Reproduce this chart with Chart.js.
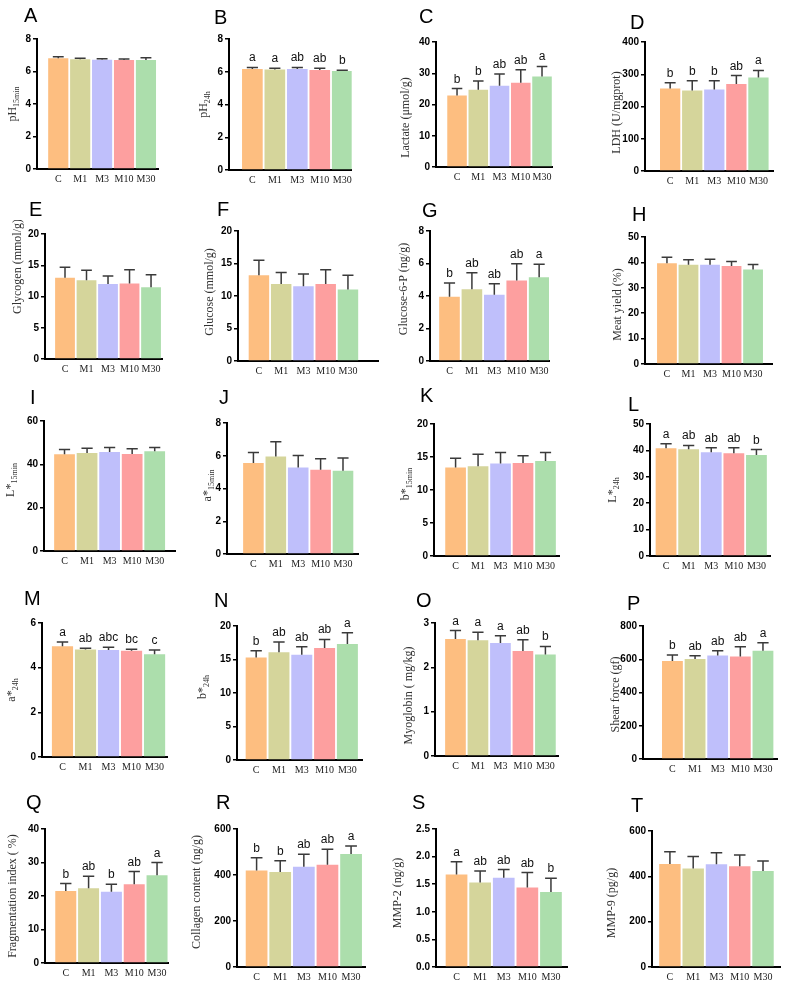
<!DOCTYPE html>
<html>
<head>
<meta charset="utf-8">
<script src="https://cdn.jsdelivr.net/npm/chart.js@4.4.1/dist/chart.umd.min.js"></script>
<style>
  body { margin: 0; background: #fff; }
  #fig { position: relative; width: 789px; height: 988px; overflow: hidden; }
  #fig canvas { position: absolute; }
  .tag { position: absolute; font: 20px "Liberation Sans", Arial, sans-serif; line-height: 20px; color: #000; }
</style>
</head>
<body>
<div id="fig"></div>
<script>
// groups and bar colours
const groups = ['C', 'M1', 'M3', 'M10', 'M30'];
const barColors = ['#FDBE80', '#D5D59B', '#BFBFFB', '#FD9F9F', '#ACDEAC'];

// A  pH 15min
const ph15Mean = [6.81, 6.75, 6.73, 6.71, 6.71];
const ph15Sd = [0.10, 0.06, 0.06, 0.06, 0.14];
// B  pH 24h
const ph24Mean = [6.17, 6.13, 6.17, 6.11, 6.05];
const ph24Sd = [0.09, 0.08, 0.09, 0.10, 0.04];
const ph24Sig = ['a', 'a', 'ab', 'ab', 'b'];
// C  lactate
const lactateMean = [22.9, 24.7, 26.0, 27.0, 29.0];
const lactateSd = [2.2, 2.8, 3.8, 4.1, 3.2];
const lactateSig = ['b', 'b', 'ab', 'ab', 'a'];
// D  LDH
const ldhMean = [256, 250, 253, 270, 290];
const ldhSd = [18, 30, 27, 26, 22];
const ldhSig = ['b', 'b', 'b', 'ab', 'a'];
// E  glycogen
const glycogenMean = [13.0, 12.6, 12.0, 12.1, 11.5];
const glycogenSd = [1.7, 1.6, 1.3, 2.2, 2.0];
// F  glucose
const glucoseMean = [13.2, 11.85, 11.5, 11.85, 11.0];
const glucoseSd = [2.3, 1.75, 1.9, 2.2, 2.2];
// G  glucose-6-P
const g6pMean = [3.95, 4.42, 4.07, 4.96, 5.16];
const g6pSd = [0.85, 1.01, 0.68, 1.03, 0.79];
const g6pSig = ['b', 'ab', 'ab', 'ab', 'a'];
// H  meat yield
const yieldMean = [39.7, 39.1, 39.1, 38.6, 37.2];
const yieldSd = [2.3, 1.9, 2.1, 1.8, 2.0];
// I  L* 15min
const l15Mean = [44.6, 45.2, 45.7, 44.8, 46.0];
const l15Sd = [2.3, 2.2, 2.1, 2.4, 1.8];
// J  a* 15min
const a15Mean = [5.55, 5.96, 5.29, 5.14, 5.08];
const a15Sd = [0.65, 0.90, 0.73, 0.68, 0.78];
// K  b* 15min
const b15Mean = [13.4, 13.6, 14.0, 14.1, 14.4];
const b15Sd = [1.4, 1.8, 1.7, 1.1, 1.3];
// L  L* 24h
const l24Mean = [40.8, 40.4, 39.3, 38.9, 38.3];
const l24Sd = [1.7, 1.5, 1.7, 2.1, 2.0];
const l24Sig = ['a', 'ab', 'ab', 'ab', 'b'];
// M  a* 24h
const a24Mean = [4.96, 4.81, 4.79, 4.76, 4.60];
const a24Sd = [0.19, 0.06, 0.12, 0.06, 0.19];
const a24Sig = ['a', 'ab', 'abc', 'bc', 'c'];
// N  b* 24h
const b24Mean = [15.3, 16.1, 15.7, 16.7, 17.3];
const b24Sd = [1.0, 1.5, 1.2, 1.3, 1.7];
const b24Sig = ['b', 'ab', 'ab', 'ab', 'a'];
// O  myoglobin
const myoMean = [2.64, 2.61, 2.55, 2.37, 2.29];
const myoSd = [0.19, 0.18, 0.16, 0.25, 0.18];
const myoSig = ['a', 'a', 'a', 'ab', 'b'];
// P  shear force
const shearMean = [589, 601, 623, 617, 651];
const shearSd = [36, 20, 28, 58, 48];
const shearSig = ['b', 'ab', 'ab', 'ab', 'a'];
// Q  fragmentation index
const fragMean = [21.5, 22.3, 21.3, 23.5, 26.2];
const fragSd = [2.2, 3.6, 2.2, 3.8, 3.8];
const fragSig = ['b', 'ab', 'b', 'ab', 'a'];
// R  collagen
const collagenMean = [420, 413, 436, 445, 491];
const collagenSd = [55, 49, 54, 67, 35];
const collagenSig = ['b', 'b', 'ab', 'ab', 'a'];
// S  MMP-2
const mmp2Mean = [1.675, 1.53, 1.615, 1.44, 1.36];
const mmp2Sd = [0.23, 0.21, 0.15, 0.27, 0.25];
const mmp2Sig = ['a', 'ab', 'ab', 'ab', 'b'];
// T  MMP-9
const mmp9Mean = [454, 435, 453, 445, 423];
const mmp9Sd = [55, 53, 51, 49, 45];

// panel setup; box = [y-axis x, top tick y, zero y, x-axis end]
const panels = [
  { tag: 'A', title: 'pH', sub: '15min', mean: ph15Mean, sd: ph15Sd, yMax: 8, yStep: 2, box: [37, 39, 169, 158], xr: [-0.97, 4.55], tOff: 24, tDy: 0, tagAt: [24, 5] },
  { tag: 'B', title: 'pH', sub: '24h', mean: ph24Mean, sd: ph24Sd, sig: ph24Sig, yMax: 8, yStep: 2, box: [229, 39, 170, 352], xr: [-1.04, 4.42], tOff: 25, tDy: 0, tagAt: [214, 7] },
  { tag: 'C', title: 'Lactate (\u03bcmol/g)', mean: lactateMean, sd: lactateSd, sig: lactateSig, yMax: 40, yStep: 10, box: [436, 42, 167, 552], xr: [-0.99, 4.47], tOff: 30, tDy: 13, tagAt: [419, 6] },
  { tag: 'D', title: 'LDH (U/mgprot)', mean: ldhMean, sd: ldhSd, sig: ldhSig, yMax: 400, yStep: 100, box: [645, 42, 171, 773], xr: [-1.14, 4.66], tOff: 28, tDy: 6, tagAt: [630, 12] },
  { tag: 'E', title: 'Glycogen (mmol/g)', mean: glycogenMean, sd: glycogenSd, yMax: 20, yStep: 5, box: [45, 234, 359, 162], xr: [-0.93, 4.51], tOff: 27, tDy: -30, tagAt: [29, 199] },
  { tag: 'F', title: 'Glucose (mmol/g)', mean: glucoseMean, sd: glucoseSd, yMax: 20, yStep: 5, box: [238, 231, 361, 378], xr: [-0.94, 5.35], tOff: 28, tDy: -4, tagAt: [217, 199] },
  { tag: 'G', title: 'Glucose-6-P (ng/g)', mean: g6pMean, sd: g6pSd, sig: g6pSig, yMax: 8, yStep: 2, box: [430, 231, 361, 549], xr: [-0.87, 4.44], tOff: 26, tDy: -7, tagAt: [422, 200] },
  { tag: 'H', title: 'Meat yield (%)', mean: yieldMean, sd: yieldSd, yMax: 50, yStep: 10, box: [645, 237, 364, 772], xr: [-1.02, 4.88], tOff: 27, tDy: 4, tagAt: [632, 204] },
  { tag: 'I', title: 'L*', sub: '15min', mean: l15Mean, sd: l15Sd, yMax: 60, yStep: 20, box: [44, 421, 551, 175], xr: [-0.91, 4.9], tOff: 33, tDy: -6, tagAt: [30, 387] },
  { tag: 'J', title: 'a*', sub: '15min', mean: a15Mean, sd: a15Sd, yMax: 8, yStep: 2, box: [227, 423, 554, 358], xr: [-1.18, 4.67], tOff: 19, tDy: -3, tagAt: [219, 387] },
  { tag: 'K', title: 'b*', sub: '15min', mean: b15Mean, sd: b15Sd, yMax: 20, yStep: 5, box: [434, 424, 556, 559], xr: [-0.96, 4.6], tOff: 28, tDy: -6, tagAt: [420, 385] },
  { tag: 'L', title: 'L*', sub: '24h', mean: l24Mean, sd: l24Sd, sig: l24Sig, yMax: 50, yStep: 10, box: [650, 424, 556, 770], xr: [-0.71, 4.6], tOff: 37, tDy: 0, tagAt: [628, 394] },
  { tag: 'M', title: 'a*', sub: '24h', mean: a24Mean, sd: a24Sd, sig: a24Sig, yMax: 6, yStep: 2, box: [42, 623, 757, 167], xr: [-0.89, 4.54], tOff: 30, tDy: 0, tagAt: [24, 588] },
  { tag: 'N', title: 'b*', sub: '24h', mean: b24Mean, sd: b24Sd, sig: b24Sig, yMax: 20, yStep: 5, box: [237, 626, 760, 362], xr: [-0.84, 4.64], tOff: 34, tDy: -6, tagAt: [214, 590] },
  { tag: 'O', title: 'Myoglobin ( mg/kg)', mean: myoMean, sd: myoSd, sig: myoSig, yMax: 3, yStep: 1, box: [435, 623, 756, 558], xr: [-0.91, 4.56], tOff: 26, tDy: 6, tagAt: [416, 590] },
  { tag: 'P', title: 'Shear force (gf)', mean: shearMean, sd: shearSd, sig: shearSig, yMax: 800, yStep: 200, box: [643, 626, 759, 777], xr: [-1.3, 4.62], tOff: 27, tDy: 2, tagAt: [627, 593] },
  { tag: 'Q', title: 'Fragmentation index ( %)', mean: fragMean, sd: fragSd, sig: fragSig, yMax: 40, yStep: 10, box: [45, 829, 963, 168], xr: [-0.91, 4.48], tOff: 32, tDy: 0, tagAt: [26, 792] },
  { tag: 'R', title: 'Collagen content (ng/g)', mean: collagenMean, sd: collagenSd, sig: collagenSig, yMax: 600, yStep: 200, box: [237, 829, 967, 365], xr: [-0.83, 4.59], tOff: 40, tDy: -6, tagAt: [216, 792] },
  { tag: 'S', title: 'MMP-2 (ng/g)', mean: mmp2Mean, sd: mmp2Sd, sig: mmp2Sig, yMax: 2.5, yStep: 0.5, dec: 1, box: [436, 829, 967, 567], xr: [-0.87, 4.68], tOff: 38, tDy: -5, tagAt: [412, 792] },
  { tag: 'T', title: 'MMP-9 (pg/g)', mean: mmp9Mean, sd: mmp9Sd, yMax: 600, yStep: 200, box: [652, 831, 967, 780], xr: [-0.77, 4.73], tOff: 40, tDy: 4, tagAt: [631, 795] }
];

const PAD_TOP = 14, PAD_RIGHT = 4, Y_W = 50, X_H = 22;
const fig = document.getElementById('fig');

// error bars, significance letters and the y title (with subscript)
function extras(p) {
  return {
    id: 'extras',
    afterDatasetsDraw(chart) {
      const ctx = chart.ctx;
      const ys = chart.scales.y;
      const bars = chart.getDatasetMeta(0).data;
      ctx.save();
      bars.forEach((bar, i) => {
        const top = ys.getPixelForValue(p.mean[i] + p.sd[i]);
        const half = bar.width * 0.27;
        ctx.strokeStyle = '#3a3a3a';
        ctx.lineWidth = 1.5;
        ctx.beginPath();
        ctx.moveTo(bar.x, bar.y);
        ctx.lineTo(bar.x, top);
        ctx.moveTo(bar.x - half, top);
        ctx.lineTo(bar.x + half, top);
        ctx.stroke();
        if (p.sig) {
          ctx.fillStyle = '#111';
          ctx.font = '12px "Liberation Sans", Arial, sans-serif';
          ctx.textAlign = 'center';
          ctx.textBaseline = 'alphabetic';
          ctx.fillText(p.sig[i], bar.x, top - 6);
        }
      });

      const area = chart.chartArea;
      ctx.translate(area.left - p.tOff, (area.top + area.bottom) / 2 + p.tDy);
      ctx.rotate(-Math.PI / 2);
      ctx.fillStyle = '#333';
      ctx.textAlign = 'left';
      ctx.textBaseline = 'middle';
      const mainFont = '12px "Liberation Serif", "Times New Roman", serif';
      const subFont = '8px "Liberation Serif", "Times New Roman", serif';
      ctx.font = mainFont;
      const w1 = ctx.measureText(p.title).width;
      let w2 = 0;
      if (p.sub) {
        ctx.font = subFont;
        w2 = ctx.measureText(p.sub).width;
      }
      const x0 = -(w1 + w2) / 2;
      ctx.font = mainFont;
      ctx.fillText(p.title, x0, 0);
      if (p.sub) {
        ctx.font = subFont;
        ctx.fillText(p.sub, x0 + w1, 4);
      }
      ctx.restore();
    }
  };
}

panels.forEach(p => {
  const [ax, top, bot, right] = p.box;
  const cv = document.createElement('canvas');
  const w = right - ax + Y_W + PAD_RIGHT;
  const h = bot - top + PAD_TOP + X_H;
  cv.width = w;
  cv.height = h;
  cv.style.width = w + 'px';
  cv.style.height = h + 'px';
  cv.style.left = (ax - Y_W) + 'px';
  cv.style.top = (top - PAD_TOP) + 'px';
  fig.appendChild(cv);

  const tag = document.createElement('div');
  tag.className = 'tag';
  tag.textContent = p.tag;
  tag.style.left = p.tagAt[0] + 'px';
  tag.style.top = p.tagAt[1] + 'px';
  fig.appendChild(tag);

  new Chart(cv, {
    type: 'bar',
    data: {
      datasets: [{
        data: groups.map((g, i) => ({ x: i, y: p.mean[i] })),
        backgroundColor: barColors,
        borderWidth: 0,
        barPercentage: 0.92,
        categoryPercentage: 1
      }]
    },
    options: {
      responsive: false,
      animation: false,
      devicePixelRatio: 1,
      layout: { padding: { top: PAD_TOP, right: PAD_RIGHT, left: 0, bottom: 0 } },
      plugins: { legend: { display: false }, tooltip: { enabled: false } },
      scales: {
        x: {
          type: 'linear',
          min: p.xr[0],
          max: p.xr[1],
          offset: false,
          afterBuildTicks: s => { s.ticks = groups.map((g, i) => ({ value: i })); },
          afterFit: s => { s.height = X_H; },
          grid: { display: false, drawTicks: false },
          border: { display: true, color: '#000', width: 2 },
          ticks: {
            autoSkip: false,
            maxRotation: 0,
            padding: 4,
            color: '#222',
            font: { family: '"Liberation Serif", "Times New Roman", serif', size: 10 },
            callback: v => groups[v]
          }
        },
        y: {
          min: 0,
          max: p.yMax,
          afterFit: s => { s.width = Y_W; },
          grid: { drawOnChartArea: false, drawTicks: true, tickLength: 4, color: '#000', lineWidth: 1.5 },
          border: { display: true, color: '#000', width: 2 },
          ticks: {
            stepSize: p.yStep,
            padding: 2,
            color: '#000',
            font: { family: '"Liberation Sans", Arial, sans-serif', size: 10, weight: 'bold' },
            callback: v => p.dec ? v.toFixed(p.dec) : v
          }
        }
      }
    },
    plugins: [extras(p)]
  });
});
</script>
</body>
</html>
